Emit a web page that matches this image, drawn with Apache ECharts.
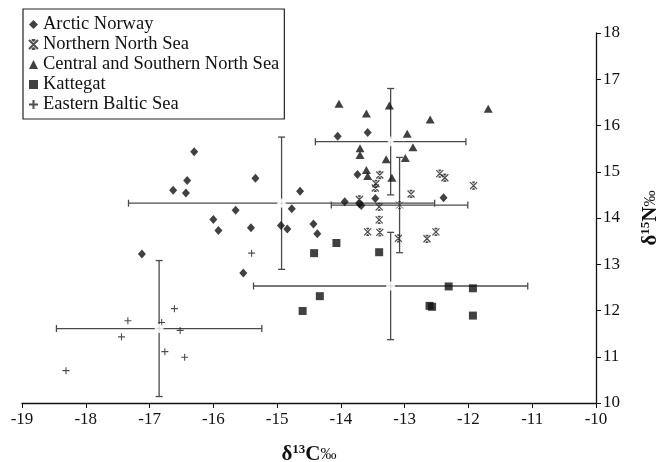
<!DOCTYPE html>
<html>
<head>
<meta charset="utf-8">
<script src="https://cdn.jsdelivr.net/npm/echarts@6/dist/echarts.min.js"></script>
<style>
  html, body { margin: 0; padding: 0; background: #fff; }
  #chart { width: 659px; height: 462px; }
</style>
</head>
<body>
<div id="chart"></div>
<script>
// δ13C, δ15N pairs per region
const arcticNorway = [
	[-16.30, 15.43], [-16.63, 14.60], [-16.41, 14.81], [-16.43, 14.54],
	[-15.34, 14.86], [-14.64, 14.58], [-15.65, 14.17], [-14.77, 14.20],
	[-16.00, 13.97], [-15.92, 13.73], [-15.41, 13.79], [-14.94, 13.84],
	[-14.84, 13.76], [-14.43, 13.87], [-14.37, 13.66], [-17.12, 13.22],
	[-15.53, 12.81], [-14.05, 15.77], [-13.58, 15.85], [-13.74, 14.94],
	[-13.46, 14.42], [-13.94, 14.35], [-13.71, 14.31], [-13.68, 14.27],
	[-12.39, 14.44]
];
const northernNorthSea = [
	[-13.39, 14.93], [-13.45, 14.74], [-13.46, 14.65], [-12.45, 14.96],
	[-12.37, 14.87], [-11.92, 14.70], [-12.90, 14.52], [-13.71, 14.40],
	[-13.40, 14.24], [-13.40, 13.96], [-13.58, 13.70], [-13.39, 13.69],
	[-12.51, 13.70], [-13.10, 13.56], [-12.65, 13.55]
];
const centralSouthernNorthSea = [
	[-14.03, 16.47], [-13.60, 16.26], [-13.24, 16.43], [-11.69, 16.36],
	[-12.60, 16.13], [-12.96, 15.82], [-13.70, 15.51], [-13.70, 15.36],
	[-12.87, 15.53], [-13.29, 15.27], [-12.99, 15.30], [-13.60, 15.04],
	[-13.58, 14.91], [-13.20, 14.87]
];
const kattegat = [
	[-14.07, 13.46], [-14.42, 13.24], [-13.40, 13.26], [-14.33, 12.31],
	[-14.60, 11.99], [-12.31, 12.52], [-11.93, 12.48], [-12.61, 12.10],
	[-12.57, 12.08], [-11.93, 11.89]
];
const easternBaltic = [
	[-15.40, 13.24], [-16.61, 12.04], [-17.34, 11.78], [-16.81, 11.74],
	[-17.44, 11.43], [-16.52, 11.57], [-16.76, 11.11], [-16.45, 10.99],
	[-18.31, 10.70]
];
// group means: [meanC, meanN, sdC, sdN]
const meanArctic = [-14.93, 14.32, 2.40, 1.43];
const meanNorthern = [-13.08, 14.28, 1.07, 1.03];
const meanCentral = [-13.22, 15.65, 1.18, 1.15];
const meanKattegat = [-13.22, 12.53, 2.15, 1.16];
const meanBaltic = [-16.85, 11.61, 1.61, 1.47];

const xTicks = [-19, -18, -17, -16, -15, -14, -13, -12, -11, -10];
const yTicks = [10, 11, 12, 13, 14, 15, 16, 17, 18];

const serif = "'Liberation Serif', 'Times New Roman', Times, serif";
const ink = '#111';
const starPath = 'path://M0,0L10,10M10,0L0,10M3,0H7M3,10H7M5,0V2M5,8V10';
const plusPath = 'path://M5,0V10M0,5H10';

const chart = echarts.init(document.getElementById('chart'));

// 误差线
function renderErrorBar(params, api) {
	const x = api.value(0), y = api.value(1);
	const ex = api.value(2), ey = api.value(3);
	const l = api.coord([x - ex, y]);
	const r = api.coord([x + ex, y]);
	const t = api.coord([x, y + ey]);
	const b = api.coord([x, y - ey]);
	const cap = 3.5;
	const style = { stroke: '#4a4a4a', lineWidth: 1.3 };
	const line = (x1, y1, x2, y2) => ({
		type: 'line', shape: { x1: x1, y1: y1, x2: x2, y2: y2 }, style: style
	});
	return {
		type: 'group',
		children: [
			line(l[0], l[1], r[0], r[1]),
			line(l[0], l[1] - cap, l[0], l[1] + cap),
			line(r[0], r[1] - cap, r[0], r[1] + cap),
			line(t[0], t[1], b[0], b[1]),
			line(t[0] - cap, t[1], t[0] + cap, t[1]),
			line(b[0] - cap, b[1], b[0] + cap, b[1])
		]
	};
}

const means = [meanArctic, meanNorthern, meanCentral, meanKattegat, meanBaltic];
const meanSymbols = ['emptyDiamond', starPath, 'emptyTriangle', 'emptyRect', 'emptyCircle'];

const nameRich = {
	d: { fontFamily: serif, fontSize: 21, color: ink, fontWeight: 'bold' },
	sup: { fontFamily: serif, fontSize: 13, color: ink, fontWeight: 'bold', padding: [0, 0, 10, 0] },
	b: { fontFamily: serif, fontSize: 21, color: ink, fontWeight: 'bold' },
	n: { fontFamily: serif, fontSize: 16, color: ink }
};

const option = {
	animation: false,
	backgroundColor: '#fff',
	textStyle: { fontFamily: serif },
	grid: {
		left: 22, right: 63, top: 33, bottom: 59,
		containLabel: false,
		outerBoundsMode: 'none'
	},
	legend: {
		orient: 'vertical',
		left: 23,
		top: 9,
		padding: [6, 5, 5, 5],
		itemGap: 1,
		itemWidth: 9,
		itemHeight: 9,
		borderColor: '#222',
		borderWidth: 1.2,
		textStyle: { fontFamily: serif, fontSize: 18.5, color: ink, lineHeight: 18 },
		data: [
			'Arctic Norway',
			'Northern North Sea',
			'Central and Southern North Sea',
			'Kattegat',
			'Eastern Baltic Sea'
		]
	},
	xAxis: {
		type: 'value',
		min: -19,
		max: -10,
		interval: 1,
		position: 'bottom',
		splitLine: { show: false },
		axisLine: { onZero: false, lineStyle: { color: ink, width: 1.3 } },
		axisTick: { length: 5, lineStyle: { color: ink } },
		axisLabel: {
			fontFamily: serif, fontSize: 17, color: ink, margin: 8,
			formatter: v => (xTicks.includes(v) ? String(v) : '')
		},
		name: '{d|δ}{sup|13}{b|C}{n|‰}',
		nameLocation: 'middle',
		nameGap: 40,
		nameTextStyle: { fontFamily: serif, fontSize: 21, color: ink, rich: nameRich }
	},
	yAxis: {
		type: 'value',
		min: 10,
		max: 18,
		interval: 1,
		position: 'right',
		splitLine: { show: false },
		axisLine: { show: true, onZero: false, lineStyle: { color: ink, width: 1.3 } },
		axisTick: { show: true, length: 5, lineStyle: { color: ink } },
		axisLabel: {
			fontFamily: serif, fontSize: 17, color: ink, margin: 7,
			formatter: v => (yTicks.includes(v) ? String(v) : '')
		},
		name: '{d|δ}{sup|15}{b|N}{n|‰}',
		nameLocation: 'middle',
		nameGap: 43,
		nameRotate: 90,
		nameTextStyle: { fontFamily: serif, fontSize: 21, color: ink, rich: nameRich }
	},
	series: [
		{
			type: 'custom',
			name: 'sd',
			renderItem: renderErrorBar,
			data: means,
			z: 1,
			silent: true
		},
		{
			type: 'scatter',
			name: 'Arctic Norway',
			data: arcticNorway,
			symbol: 'diamond',
			symbolSize: [8, 9],
			itemStyle: { color: ink }
		},
		{
			type: 'scatter',
			name: 'Northern North Sea',
			data: northernNorthSea,
			symbol: starPath,
			symbolSize: 7,
			itemStyle: { color: 'rgba(0,0,0,0)', borderColor: '#222', borderWidth: 1.3 }
		},
		{
			type: 'scatter',
			name: 'Central and Southern North Sea',
			data: centralSouthernNorthSea,
			symbol: 'triangle',
			symbolSize: [9, 8],
			itemStyle: { color: ink }
		},
		{
			type: 'scatter',
			name: 'Kattegat',
			data: kattegat,
			symbol: 'rect',
			symbolSize: 8,
			itemStyle: { color: ink }
		},
		{
			type: 'scatter',
			name: 'Eastern Baltic Sea',
			data: easternBaltic,
			symbol: plusPath,
			symbolSize: 7,
			itemStyle: { color: 'rgba(0,0,0,0)', borderColor: '#222', borderWidth: 1.1 }
		},
		{
			type: 'scatter',
			name: 'mean',
			data: means.map((m, i) => ({
				value: [m[0], m[1]],
				symbol: meanSymbols[i]
			})),
			symbolSize: 7,
			z: 3,
			itemStyle: { color: '#fff', borderColor: '#333', borderWidth: 1 }
		}
	]
};

chart.setOption(option);
</script>
</body>
</html>
